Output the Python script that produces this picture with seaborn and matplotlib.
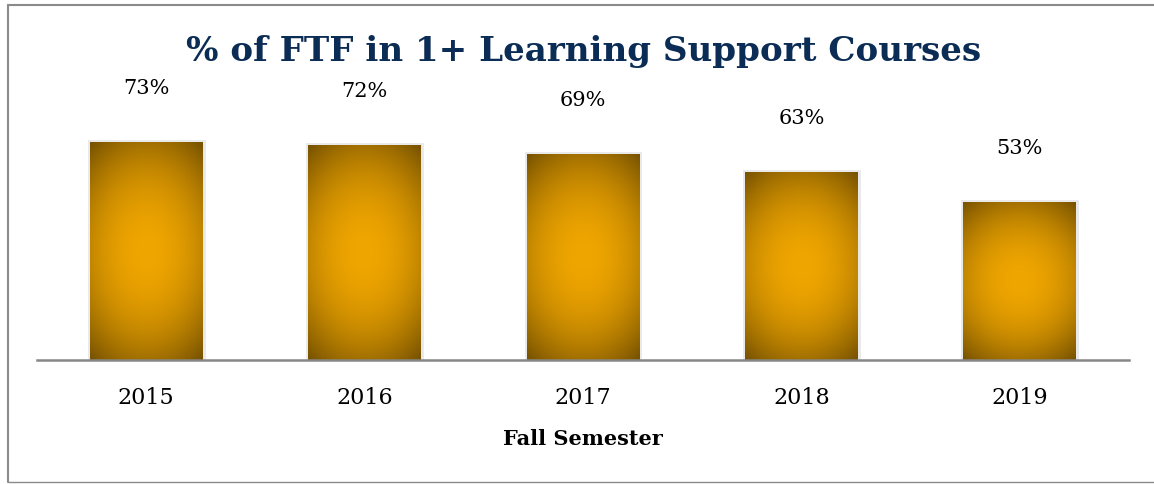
import numpy as np
import pandas as pd
import matplotlib
matplotlib.use('Agg')
import matplotlib.pyplot as plt
from matplotlib.lines import Line2D
import seaborn as sns

# data
years = ['2015', '2016', '2017', '2018', '2019']
pct = [73, 72, 69, 63, 53]
label_text = ['73%', '72%', '69%', '63%', '53%']

df = pd.DataFrame({'year': years, 'pct': pct})

sns.set_style('white')
plt.rcParams['font.family'] = ['DejaVu Serif']

fig = plt.figure(figsize=(11.54, 4.85), dpi=100)
fig.patch.set_linewidth(0)
ax = fig.add_axes([37 / 1154, 1 - 361 / 485, 1092 / 1154, 298.6 / 485])

sns.barplot(data=df, x='year', y='pct', color='#e9a200', width=0.516,
            edgecolor='#e9e9e9', linewidth=3.5, ax=ax)
ax.set_ylim(0, 100)
ax.set_xlim(-0.5, 4.5)

# radial gold gradient inside each bar (darker toward the corners)
center = np.array([0xf0, 0xa6, 0x00]) / 255
edge = np.array([0x78, 0x53, 0x00]) / 255
for p in ax.patches:
    x0, y0 = p.get_x(), p.get_y()
    w, h = p.get_width(), p.get_height()
    yy, xx = np.mgrid[-1:1:200j, -1:1:100j]
    t = np.clip((0.614 * xx) ** 2 + (0.807 * yy) ** 2, 0, 1)
    img = center[None, None, :] * (1 - t[..., None]) + edge[None, None, :] * t[..., None]
    im = ax.imshow(img, extent=[x0, x0 + w, y0, y0 + h], aspect='auto',
                   zorder=2, interpolation='bilinear')
    im.set_clip_path(p)

ax.set_xlim(-0.5, 4.5)
ax.set_ylim(0, 100)

for i, p in enumerate(ax.patches):
    ax.annotate(label_text[i], (p.get_x() + p.get_width() / 2, p.get_height()),
                xytext=(0, 39), textcoords='offset points', ha='center', va='center',
                fontsize=15, color='black')

sns.despine(ax=ax, left=True, top=True, right=True)
ax.spines['bottom'].set_color('#878787')
ax.spines['bottom'].set_linewidth(1.8)
ax.spines['bottom'].set_zorder(5)
ax.set_yticks([])
ax.set_ylabel('')
ax.tick_params(axis='x', length=0, pad=19, labelsize=16, labelcolor='black')
ax.set_xlabel('Fall Semester', fontsize=15, fontweight='bold', labelpad=14, color='black')

fig.text(584 / 1154, 1 - 51 / 485, '% of FTF in 1+ Learning Support Courses',
         ha='center', va='center', fontsize=24.6, fontweight='bold', color='#0b2c55')

# outer frame (left, top, bottom)
bc = '#8a8a8a'
fig.add_artist(Line2D([7.5 / 1154, 7.5 / 1154], [1 - 6 / 485, 1 - 483 / 485],
                      transform=fig.transFigure, color=bc, lw=1.5))
fig.add_artist(Line2D([7.5 / 1154, 1], [1 - 6 / 485, 1 - 6 / 485],
                      transform=fig.transFigure, color=bc, lw=1.5))
fig.add_artist(Line2D([7.5 / 1154, 1], [1 - 483 / 485, 1 - 483 / 485],
                      transform=fig.transFigure, color=bc, lw=1.0))

fig.savefig('out.png', dpi=100, edgecolor='white')
